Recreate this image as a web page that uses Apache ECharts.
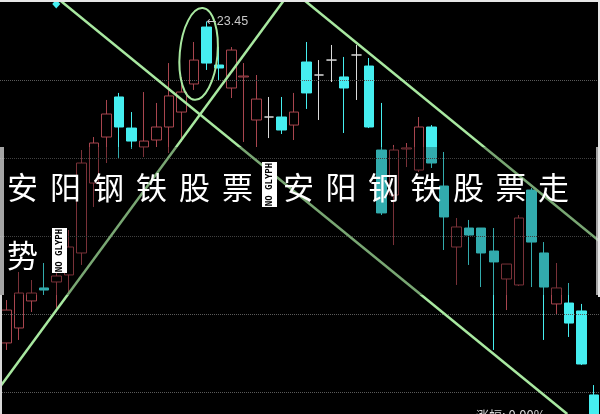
<!DOCTYPE html>
<html><head><meta charset="utf-8">
<script src="https://cdn.jsdelivr.net/npm/echarts@6/dist/echarts.min.js"></script>
<style>html,body{margin:0;padding:0;background:#000;}#c{width:600px;height:414px;}</style>
</head><body><div id="c"></div>
<script>
const categories = ['1','2','3','4','5','6','7','8','9','10','11','12','13','14','15','16','17','18','19','20','21','22','23','24','25','26','27','28','29','30','31','32','33','34','35','36','37','38','39','40','41','42','43','44','45','46','47','48'];
const openVals  = [20.977,21.092,21.300,21.400,21.446,21.500,21.669,22.207,22.561,22.869,22.630,22.484,22.538,22.638,22.753,22.969,23.407,23.115,22.938,23.023,22.692,22.715,22.715,22.653,23.138,23.038,23.153,23.023,23.192,23.107,22.461,22.115,22.469,22.307,22.638,22.184,21.715,21.861,21.861,21.684,21.469,21.423,22.153,21.669,21.277,21.284,21.223,20.577];
const closeVals = [21.230,21.361,21.361,21.384,21.492,21.715,22.361,22.515,22.738,22.638,22.530,22.530,22.638,22.877,22.907,23.153,23.130,23.092,23.230,23.030,22.853,22.715,22.615,22.753,22.900,23.038,23.153,22.938,23.192,22.638,21.977,22.461,22.477,22.638,22.361,21.946,21.869,21.807,21.669,21.600,21.584,21.938,21.753,21.407,21.400,21.130,20.815,20.384];
const lowVals   = [20.923,21.000,21.215,21.346,21.246,21.346,21.577,22.023,22.361,22.400,22.469,22.407,22.484,22.438,22.523,22.923,23.077,23.000,22.861,22.523,22.484,22.553,22.584,22.538,22.777,22.692,22.984,22.592,22.846,22.630,21.961,21.730,22.330,22.292,22.323,21.692,21.423,21.577,21.407,20.923,21.230,21.415,21.407,21.000,21.192,21.023,20.807,20.380];
const highVals  = [21.307,21.523,21.461,21.592,21.615,21.846,22.461,22.561,22.846,22.900,22.753,22.907,22.823,23.130,23.023,23.292,23.450,23.253,23.253,23.130,23.038,22.869,22.869,22.900,23.292,23.153,23.269,23.177,23.269,23.169,22.823,22.500,22.515,22.715,22.653,22.446,21.938,21.923,21.861,21.861,21.584,21.961,22.169,21.753,21.592,21.438,21.277,20.653];
const gridLevels = [23.0, 22.4, 21.8, 21.2, 20.6];
const peakLabel = '23.45';
const peakIndex = 16;
const signalMark = [4, 23.585];
const trendFallA = [[4.27, 23.615], [44.88, 20.43]];
const trendFallB = [[23.82, 23.615], [49.0, 21.638]];
const trendRise  = [[-1.06, 20.565], [22.23, 23.615]];
const ellipseSpec = [15.39, 23.2, 1.51, 0.354];
const titleGroup1 = ['安','阳','钢','铁','股','票'];
const titleGroup2 = ['安','阳','钢','铁','股','票','走'];
const titleLine2 = ['势'];
const bottomText = '涨幅: 0.00%';

const candleData = categories.map((c, i) => [openVals[i], closeVals[i], lowVals[i], highVals[i]]);
const GREEN = '#A8E8A0';

const graphics = [];
graphics.push({type:'rect', z:10, silent:true, shape:{x:0, y:147, width:600, height:148}, style:{fill:'rgba(0,0,0,0.28)'}});
graphics.push({type:'rect', z:10, silent:true, shape:{x:0, y:147, width:4, height:148}, style:{fill:'rgba(220,220,220,0.75)'}});
graphics.push({type:'rect', z:10, silent:true, shape:{x:596, y:147, width:4, height:148}, style:{fill:'rgba(220,220,220,0.75)'}});
graphics.push({type:'rect', z:10, silent:true, shape:{x:0, y:0, width:600, height:2}, style:{fill:'#e6e6e6'}});
graphics.push({type:'rect', z:10, silent:true, shape:{x:598, y:0, width:2, height:297}, style:{fill:'#e6e6e6'}});
graphics.push({type:'rect', z:10, silent:true, shape:{x:0, y:295, width:2, height:119}, style:{fill:'#d8d8d8'}});

const FONT = '31px "Noto Sans CJK SC"';
titleGroup1.forEach((ch, i) => {
  graphics.push({type:'text', z:20, silent:true, x: 7 + i*43, y: 187, style:{text:ch, fill:'#fff', font:FONT, align:'left', verticalAlign:'middle'}});
});
titleGroup2.forEach((ch, i) => {
  graphics.push({type:'text', z:20, silent:true, x: 283 + i*42.5, y: 187, style:{text:ch, fill:'#fff', font:FONT, align:'left', verticalAlign:'middle'}});
});
titleLine2.forEach((ch, i) => {
  graphics.push({type:'text', z:20, silent:true, x: 7 + i*43, y: 255, style:{text:ch, fill:'#fff', font:FONT, align:'left', verticalAlign:'middle'}});
});
function noGlyph(x, y) {
  graphics.push({type:'rect', z:20, silent:true, shape:{x:x, y:y, width:15, height:45}, style:{fill:'#fff'}});
  graphics.push({type:'text', z:21, silent:true, x: x+7.5, y: y+22.5, rotation: Math.PI/2,
    style:{text:'NO GLYPH', fill:'#000', font:'bold 9px "DejaVu Sans Mono"', align:'center', verticalAlign:'middle'}});
}
noGlyph(262, 162);
noGlyph(52, 228);
graphics.push({type:'text', z:20, silent:true, x:476, y:409, style:{text:bottomText, fill:'#d8d8d8', font:'13px "Noto Sans CJK SC"', align:'left', verticalAlign:'top'}});

const chart = echarts.init(document.getElementById('c'));
chart.setOption({
  animation:false,
  backgroundColor:'#000',
  grid:{left:-3, right:-1, top:0, bottom:0, containLabel:false},
  xAxis:[
    {type:'category', data:categories, show:false, boundaryGap:true},
    {type:'value', min:-0.5, max:47.5, show:false}
  ],
  yAxis:{type:'value', min:20.4304, max:23.615, show:false, splitLine:{show:false}},
  series:[
    {type:'candlestick', data:candleData, barWidth:10, z:2,
     itemStyle:{color:'#000', color0:'#46EEF0', borderColor:'#A8454E', borderColor0:'#46EEF0', borderColorDoji:'#DADADA', borderWidth:1},
     markLine:{silent:true, symbol:['none','none'], label:{show:false}, animation:false,
       lineStyle:{type:'dotted', color:'#5a5a5a', width:1},
       data: gridLevels.map(v => ({yAxis:v}))},
     markPoint:{silent:true, animation:false,
       data:[
         {coord:[peakIndex, highVals[peakIndex]], value:highVals[peakIndex], symbol:'circle', symbolSize:1,
          itemStyle:{color:'rgba(0,0,0,0)'},
          label:{show:true, position:'right', distance:0,
            formatter:'{a|\u2190}{b|' + peakLabel + '}',
            rich:{a:{color:'#c8c8c8', fontSize:12, fontFamily:'DejaVu Sans'}, b:{color:'#c8c8c8', fontSize:12.5, fontFamily:'Liberation Sans'}}}},
         {coord:signalMark, symbol:'diamond', symbolSize:[8,9], itemStyle:{color:'#46EEF0'}, label:{show:false}}
       ]}
    },
    {type:'line', xAxisIndex:1, data:trendFallA, symbol:'none', silent:true, z:5, lineStyle:{color:GREEN, width:2.5}},
    {type:'line', xAxisIndex:1, data:trendFallB, symbol:'none', silent:true, z:5, lineStyle:{color:GREEN, width:2.5}},
    {type:'line', xAxisIndex:1, data:trendRise, symbol:'none', silent:true, z:5, lineStyle:{color:GREEN, width:2.5}},
    {type:'custom', xAxisIndex:1, data:[ellipseSpec], silent:true, z:5,
     renderItem:function(params, api){
       const c = api.coord([api.value(0), api.value(1)]);
       const ex = api.coord([api.value(0)+api.value(2), api.value(1)]);
       const ey = api.coord([api.value(0), api.value(1)+api.value(3)]);
       return {type:'ellipse', x:c[0], y:c[1], rotation:-0.09,
         shape:{cx:0, cy:0, rx:Math.abs(ex[0]-c[0]), ry:Math.abs(ey[1]-c[1])},
         style:{fill:'none', stroke:GREEN, lineWidth:2}};
     }}
  ],
  graphic: graphics
});
</script></body></html>
